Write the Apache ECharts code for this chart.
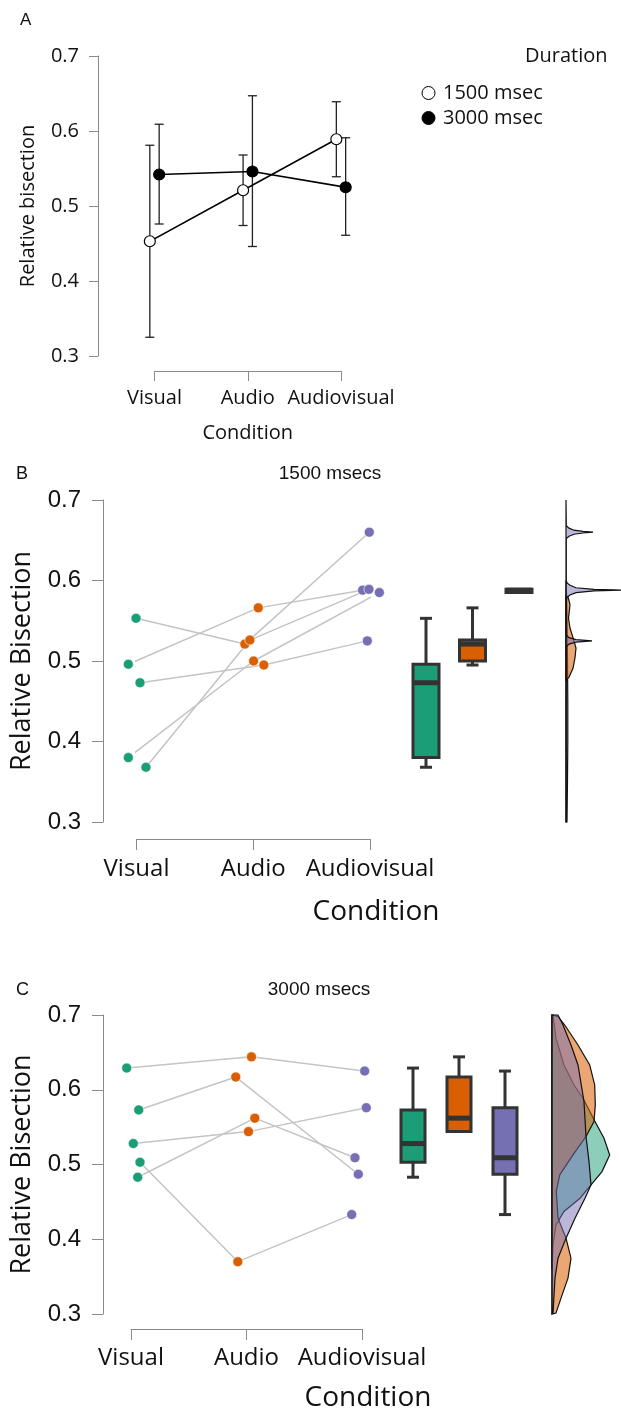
<!DOCTYPE html>
<html>
<head>
<meta charset="utf-8">
<script src="https://cdn.jsdelivr.net/npm/echarts@6/dist/echarts.min.js"></script>
<style>
  html, body { margin: 0; padding: 0; background: #fff; }
  #main { width: 621px; height: 1412px; }
</style>
</head>
<body>
<div id="main"></div>
<script>
const conditions = ['Visual', 'Audio', 'Audiovisual'];
const colors = ['#1b9e77', '#d95f02', '#7570b3'];
const densityFill = ['rgba(27,158,119,0.5)', 'rgba(217,95,2,0.55)', 'rgba(117,112,179,0.5)'];

// panel A - means and error bars per condition
const mean1500 = [0.453, 0.521, 0.589];
const low1500 = [0.325, 0.474, 0.539];
const high1500 = [0.581, 0.568, 0.639];
const mean3000 = [0.542, 0.546, 0.525];
const low3000 = [0.476, 0.446, 0.461];
const high3000 = [0.609, 0.647, 0.591];

// panel B - 1500 msecs, one entry per participant
const visualB = [0.553, 0.496, 0.473, 0.380, 0.368];
const audioB = [0.521, 0.566, 0.495, 0.500, 0.526];
const avB = [0.660, 0.588, 0.525, 0.585, 0.589];
const jitVisualB = [-0.004, -0.07, 0.03, -0.07, 0.081];
const jitAudioB = [-0.072, 0.043, 0.091, 0.003, -0.029];
const jitAvB = [-0.006, -0.063, -0.023, 0.08, -0.009];
// min, q1, median, q3, max
const boxB = [
  [0.368, 0.380, 0.473, 0.496, 0.553],
  [0.495, 0.500, 0.521, 0.526, 0.566],
  [0.585, 0.585, 0.588, 0.589, 0.589]
];
// [value, density]
const densGreenB = [[0.60, 0], [0.58, 0.6], [0.55, 1], [0.50, 1.5], [0.45, 1.8], [0.40, 1.8], [0.35, 1.5], [0.30, 1], [0.30, 0]];
const densOrangeB = [[0.581, 0], [0.5795, 2], [0.570, 4], [0.553, 2.5], [0.541, 4], [0.529, 7], [0.516, 10], [0.504, 9], [0.491, 7], [0.480, 3], [0.476, 0]];
const densPurpleB = [[0.70, 0], [0.668, 0.3], [0.665, 3], [0.6625, 8], [0.661, 17], [0.660, 27], [0.659, 17], [0.6575, 8], [0.655, 3], [0.652, 0.3],
  [0.600, 0.3], [0.597, 1], [0.594, 4], [0.591, 10], [0.589, 28], [0.588, 58], [0.587, 28], [0.585, 10], [0.582, 4], [0.579, 1], [0.575, 0.3],
  [0.532, 0.3], [0.529, 3], [0.5265, 10], [0.525, 26], [0.5235, 10], [0.521, 3], [0.518, 0.3], [0.30, 0.2], [0.30, 0]];

// panel C - 3000 msecs
const visualC = [0.629, 0.573, 0.528, 0.483, 0.503];
const audioC = [0.644, 0.617, 0.544, 0.562, 0.370];
const avC = [0.625, 0.487, 0.576, 0.509, 0.433];
const jitVisualC = [-0.037, 0.067, 0.02, 0.058, 0.078];
const jitAudioC = [0.043, -0.093, 0.017, 0.072, -0.075];
const jitAvC = [0.023, -0.032, 0.037, -0.061, -0.089];
const boxC = [
  [0.483, 0.503, 0.528, 0.573, 0.629],
  [0.544, 0.544, 0.562, 0.617, 0.644],
  [0.433, 0.487, 0.509, 0.576, 0.625]
];
const densGreenC = [[0.700, 0], [0.700, 1], [0.6688, 4], [0.6332, 12], [0.6064, 22], [0.5886, 31], [0.5574, 43], [0.5351, 52], [0.5128, 57.7],
  [0.4905, 50], [0.4727, 39], [0.4549, 28], [0.4371, 12], [0.4193, 4], [0.3926, 1], [0.36, 0]];
const densOrangeC = [[0.700, 0], [0.698, 6], [0.6866, 12.7], [0.6599, 26], [0.6332, 37.7], [0.6064, 42.7], [0.5797, 43.3], [0.5574, 42],
  [0.5374, 34], [0.5128, 21], [0.4861, 7.7], [0.4638, 4.3], [0.4282, 6], [0.4015, 14], [0.3747, 19], [0.3480, 16], [0.3213, 9], [0.3012, 4], [0.300, 0]];
const densPurpleC = [[0.700, 0], [0.700, 6], [0.6866, 11], [0.6599, 19], [0.6332, 26], [0.5841, 32], [0.5374, 34], [0.5039, 37], [0.4727, 39],
  [0.4549, 33], [0.4282, 23], [0.4015, 14], [0.3747, 6], [0.3480, 3], [0.3012, 1], [0.300, 0]];

const yTicks = { min: 0.3, max: 0.7, interval: 0.1 };
const openSans = '"Open Sans", sans-serif';
const arial = '"Liberation Sans", Arial, sans-serif';
const axisGrey = '#8a8a8a';

function plotXAxis(grid, offset, tickLen, size, margin, name) {
  return {
    type: 'value', gridIndex: grid, min: 0, max: 2, interval: 1, offset: offset,
    axisLine: { show: true, onZero: false, lineStyle: { color: axisGrey, width: 1 } },
    axisTick: { show: true, length: tickLen, lineStyle: { color: axisGrey, width: 1 } },
    splitLine: { show: false },
    axisLabel: { formatter: v => conditions[v] || '', margin: margin, fontSize: size, fontFamily: openSans, color: '#111', showMinLabel: true, showMaxLabel: true },
    name: name || '', nameLocation: 'middle', nameGap: 52,
    nameTextStyle: { fontSize: 20, fontFamily: openSans, color: '#111' }
  };
}
function plotYAxis(grid, offset, tickLen, labelFont, size, margin, name, nameSize, nameGap) {
  return {
    type: 'value', gridIndex: grid, min: yTicks.min, max: yTicks.max, interval: yTicks.interval, offset: offset,
    axisLine: { show: true, onZero: false, lineStyle: { color: axisGrey, width: 1 } },
    axisTick: { show: true, length: tickLen, lineStyle: { color: axisGrey, width: 1 } },
    splitLine: { show: false },
    axisLabel: { formatter: v => v.toFixed(1), margin: margin, fontSize: size, fontFamily: labelFont, color: '#111' },
    name: name, nameLocation: 'middle', nameRotate: 90, nameGap: nameGap,
    nameTextStyle: { fontSize: nameSize, fontFamily: openSans, color: '#111' }
  };
}
function hiddenY(grid) {
  return { type: 'value', gridIndex: grid, min: yTicks.min, max: yTicks.max, show: false };
}

function errorBars(means, lows, highs, dodge) {
  return {
    type: 'custom', xAxisIndex: 0, yAxisIndex: 0, clip: false, z: 1,
    data: means.map((m, i) => [i + dodge, lows[i], highs[i]]),
    encode: { x: 0, y: [1, 2] },
    renderItem: function (params, api) {
      const x = api.value(0);
      const lo = api.coord([x, api.value(1)]);
      const hi = api.coord([x, api.value(2)]);
      const st = { stroke: '#222', lineWidth: 1.3 };
      return {
        type: 'group', children: [
          { type: 'line', shape: { x1: lo[0], y1: lo[1], x2: hi[0], y2: hi[1] }, style: st },
          { type: 'line', shape: { x1: lo[0] - 4.5, y1: lo[1], x2: lo[0] + 4.5, y2: lo[1] }, style: st },
          { type: 'line', shape: { x1: hi[0] - 4.5, y1: hi[1], x2: hi[0] + 4.5, y2: hi[1] }, style: st }
        ]
      };
    }
  };
}

function meanLine(name, means, dodge, fill) {
  return {
    name: name, type: 'line', xAxisIndex: 0, yAxisIndex: 0, clip: false, z: 3,
    data: means.map((m, i) => [i + dodge, m]),
    symbol: 'circle', symbolSize: 11, showSymbol: true,
    lineStyle: { color: '#000', width: 1.5 },
    itemStyle: { color: fill, borderColor: '#000', borderWidth: 1.2 }
  };
}

function participantLines(grid, vis, aud, av, jv, ja, jav) {
  return vis.map((v, i) => ({
    type: 'line', xAxisIndex: grid, yAxisIndex: grid, clip: false, silent: true, z: 1,
    data: [[0 + jv[i], v], [1 + ja[i], aud[i]], [2 + jav[i], av[i]]],
    symbol: 'none', lineStyle: { color: '#c4c4c4', width: 1.5 }
  }));
}
function conditionPoints(grid, idx, values, jit) {
  return {
    type: 'scatter', xAxisIndex: grid, yAxisIndex: grid, clip: false, z: 3,
    data: values.map((v, i) => [idx + jit[i], v]),
    symbolSize: 10,
    itemStyle: { color: colors[idx], borderColor: '#fff', borderWidth: 0.6, opacity: 1 }
  };
}

function boxes(grid, stats, boxW) {
  return {
    type: 'custom', xAxisIndex: grid, yAxisIndex: grid, clip: false,
    data: stats.map((s, i) => [i].concat(s)),
    encode: { x: 0, y: [1, 2, 3, 4, 5] },
    renderItem: function (params, api) {
      const i = api.value(0);
      const p = [1, 2, 3, 4, 5].map(d => api.coord([i, api.value(d)]));
      const cx = p[0][0];
      const half = boxW / 2, cap = 6;
      const ln = { stroke: '#333', lineWidth: 3 };
      const kids = [];
      if (p[4][1] < p[3][1]) {
        kids.push({ type: 'line', shape: { x1: cx, y1: p[3][1], x2: cx, y2: p[4][1] }, style: ln });
        kids.push({ type: 'line', shape: { x1: cx - cap, y1: p[4][1], x2: cx + cap, y2: p[4][1] }, style: ln });
      }
      if (p[0][1] > p[1][1]) {
        kids.push({ type: 'line', shape: { x1: cx, y1: p[1][1], x2: cx, y2: p[0][1] }, style: ln });
        kids.push({ type: 'line', shape: { x1: cx - cap, y1: p[0][1], x2: cx + cap, y2: p[0][1] }, style: ln });
      }
      kids.push({ type: 'rect', shape: { x: cx - half, y: p[3][1], width: boxW, height: p[1][1] - p[3][1] },
        style: { fill: colors[i], stroke: '#333', lineWidth: 3 } });
      kids.push({ type: 'line', shape: { x1: cx - half, y1: p[2][1], x2: cx + half, y2: p[2][1] }, style: { stroke: '#333', lineWidth: 5 } });
      return { type: 'group', children: kids };
    }
  };
}

function density(grid, profile, fill) {
  return {
    type: 'custom', xAxisIndex: grid, yAxisIndex: grid, clip: false,
    data: profile.map(p => [p[1], p[0]]),
    renderItem: function (params, api) {
      if (params.dataIndex !== 0) return null;
      const pts = profile.map(p => api.coord([p[1], p[0]]));
      pts.unshift(api.coord([0, profile[0][0]]));
      pts.push(api.coord([0, profile[profile.length - 1][0]]));
      return { type: 'polygon', shape: { points: pts }, style: { fill: fill, stroke: '#111', lineWidth: 1.2 } };
    }
  };
}

const chart = echarts.init(document.getElementById('main'), null, { renderer: 'canvas' });
const H = 1412, W = 621;
const gridBase = { containLabel: false, outerBoundsMode: 'none' };

chart.setOption({
  backgroundColor: '#fff',
  animation: false,
  grid: [
    Object.assign({ left: 154.5, right: W - 341, top: 56, bottom: H - 356 }, gridBase),
    Object.assign({ left: 136.5, right: W - 370, top: 500, bottom: H - 822 }, gridBase),
    Object.assign({ left: 402.75, right: W - 542.25, top: 500, bottom: H - 822 }, gridBase),
    Object.assign({ left: 566, right: W - 626, top: 500, bottom: H - 822 }, gridBase),
    Object.assign({ left: 131, right: W - 362, top: 1015, bottom: H - 1314 }, gridBase),
    Object.assign({ left: 390, right: W - 528, top: 1015, bottom: H - 1314 }, gridBase),
    Object.assign({ left: 552, right: W - 612, top: 1015, bottom: H - 1314 }, gridBase)
  ],
  xAxis: [
    plotXAxis(0, 15, 10, 20, 17, 'Condition'),
    plotXAxis(1, 17, 11, 24, 18),
    { type: 'category', gridIndex: 2, data: conditions, show: false },
    { type: 'value', gridIndex: 3, min: 0, max: 60, show: false },
    plotXAxis(4, 15, 11, 24, 17),
    { type: 'category', gridIndex: 5, data: conditions, show: false },
    { type: 'value', gridIndex: 6, min: 0, max: 60, show: false }
  ],
  yAxis: [
    plotYAxis(0, 56.5, 9, openSans, 20, 19, 'Relative bisection', 20, 60),
    plotYAxis(1, 33.5, 11, arial, 24, 22, 'Relative Bisection', 27, 67),
    hiddenY(2), hiddenY(3),
    plotYAxis(4, 28, 11, arial, 24, 22, 'Relative Bisection', 27, 67),
    hiddenY(5), hiddenY(6)
  ],
  legend: {
    orient: 'vertical', left: 416.5, top: 78, itemWidth: 13, itemHeight: 13, itemGap: 5, icon: 'circle',
    selectedMode: false,
    textStyle: { fontSize: 20, fontFamily: openSans, color: '#111', padding: [0, 0, 0, 3] },
    data: [
      { name: '1500 msec', itemStyle: { color: '#fff', borderColor: '#000', borderWidth: 1 } },
      { name: '3000 msec', itemStyle: { color: '#000', borderColor: '#000', borderWidth: 1 } }
    ]
  },
  graphic: [
    { type: 'text', left: 20, top: 12, style: { text: 'A', fontSize: 17, fontFamily: arial, fill: '#111' } },
    { type: 'text', left: 525, top: 46, style: { text: 'Duration', fontSize: 20, fontFamily: openSans, fill: '#111' } },
    { type: 'text', left: 16, top: 465, style: { text: 'B', fontSize: 18, fontFamily: arial, fill: '#111' } },
    { type: 'text', x: 330, y: 474, style: { text: '1500 msecs', fontSize: 19, fontFamily: arial, fill: '#111', align: 'center', verticalAlign: 'middle' } },
    { type: 'text', x: 376, y: 912, style: { text: 'Condition', fontSize: 28, fontFamily: openSans, fill: '#111', align: 'center', verticalAlign: 'middle' } },
    { type: 'text', left: 16, top: 981, style: { text: 'C', fontSize: 18, fontFamily: arial, fill: '#111' } },
    { type: 'text', x: 319, y: 990, style: { text: '3000 msecs', fontSize: 19, fontFamily: arial, fill: '#111', align: 'center', verticalAlign: 'middle' } },
    { type: 'text', x: 368, y: 1398, style: { text: 'Condition', fontSize: 28, fontFamily: openSans, fill: '#111', align: 'center', verticalAlign: 'middle' } }
  ],
  series: [
    errorBars(mean1500, low1500, high1500, -0.05),
    errorBars(mean3000, low3000, high3000, 0.05),
    meanLine('1500 msec', mean1500, -0.05, '#fff'),
    meanLine('3000 msec', mean3000, 0.05, '#000'),

    ...participantLines(1, visualB, audioB, avB, jitVisualB, jitAudioB, jitAvB),
    conditionPoints(1, 0, visualB, jitVisualB),
    conditionPoints(1, 1, audioB, jitAudioB),
    conditionPoints(1, 2, avB, jitAvB),
    boxes(2, boxB, 26),
    density(3, densGreenB, densityFill[0]),
    density(3, densOrangeB, densityFill[1]),
    density(3, densPurpleB, densityFill[2]),

    ...participantLines(4, visualC, audioC, avC, jitVisualC, jitAudioC, jitAvC),
    conditionPoints(4, 0, visualC, jitVisualC),
    conditionPoints(4, 1, audioC, jitAudioC),
    conditionPoints(4, 2, avC, jitAvC),
    boxes(5, boxC, 24),
    density(6, densGreenC, densityFill[0]),
    density(6, densOrangeC, densityFill[1]),
    density(6, densPurpleC, densityFill[2])
  ]
});
</script>
</body>
</html>
